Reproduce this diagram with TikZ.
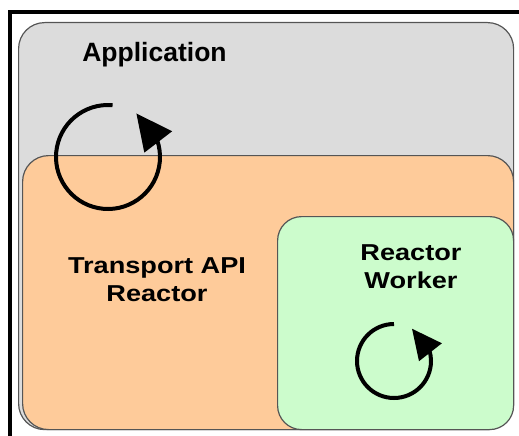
\documentclass[tikz,border=0pt]{standalone}
\usepackage{fontspec}
\setmainfont{Liberation Sans}
\newfontfamily\widefont[FakeStretch=1.18]{Liberation Sans}
\usepackage{xcolor}
\usetikzlibrary{arrows.meta, bending, positioning, calc}

\definecolor{appgray}{HTML}{DCDCDC}
\definecolor{transorange}{HTML}{FECB9A}
\definecolor{workgreen}{HTML}{CCFCCC}
\definecolor{edgegray}{HTML}{555555}

\begin{document}
\begin{tikzpicture}[
    x=1pt, y=1pt,
    layer/.style={draw=edgegray, line width=1.2pt, rounded corners=26pt, anchor=north west, inner sep=0pt},
    title/.style={font=\bfseries\fontsize{26.5}{30}\selectfont, inner sep=0pt},
    label/.style={font=\widefont\bfseries\fontsize{23}{28}\selectfont, align=center, inner sep=0pt},
    loop/.style={line width=4pt}
]
    \useasboundingbox (0,0) rectangle (519,-436);

    % Frame
    \draw[line width=4pt] (10,-436) -- (10,-12) -- (519,-12);

    % Application layer
    \node[layer, fill=appgray, minimum width=495pt, minimum height=407pt] (app) at (18,-22) {};

    % Transport API reactor
    \node[layer, fill=transorange, minimum width=491pt, minimum height=274pt] (transport) at (22,-155) {};

    % Reactor worker
    \node[layer, fill=workgreen, minimum width=236pt, minimum height=213pt, rounded corners=24pt] (worker) at (277,-216) {};

    % Event loops
    \coordinate (apploop) at (108,-157);
    \coordinate (workloop) at (394,-361);
    \draw[loop, -{Triangle[length=36pt, width=34pt]}] ($(apploop)+(85:52)$) arc[start angle=85, end angle=417, radius=52];
    \draw[loop, -{Triangle[length=30pt, width=28pt]}] ($(workloop)+(90:37)$) arc[start angle=90, end angle=421, radius=37];

    % Labels
    \node[title, anchor=base] (apptext) at (154.5,-62) {Application};
    \node[label] (transtext) at (157,-280) {Transport API\\Reactor};
    \node[label] (worktext) at (411,-267) {Reactor\\Worker};
\end{tikzpicture}
\end{document}
